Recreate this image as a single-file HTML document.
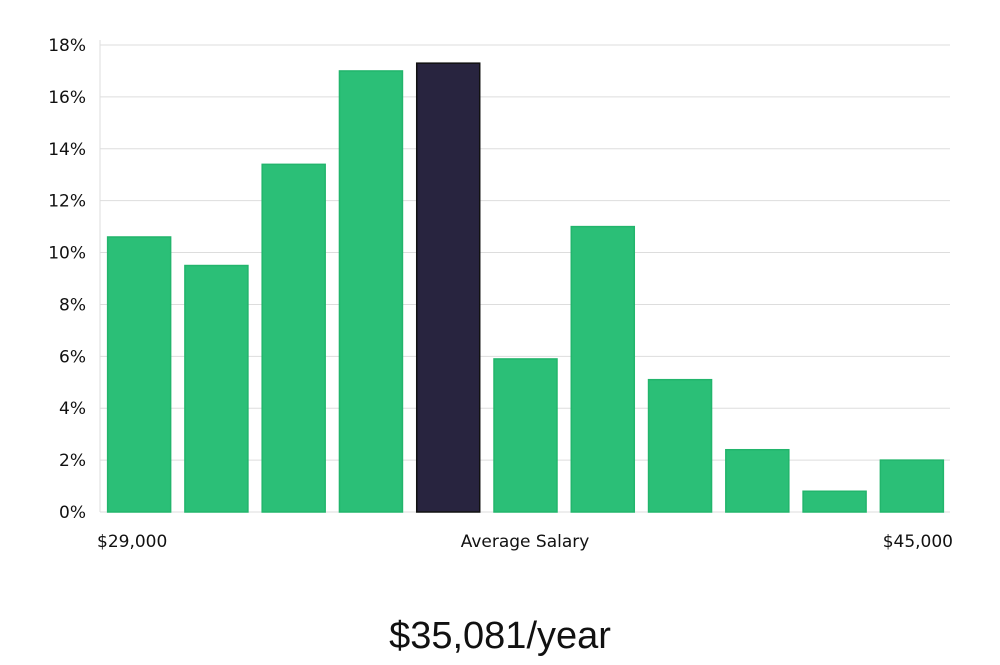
<!DOCTYPE html>
<html><head><meta charset="utf-8"><style>
body{margin:0;background:#fff;}
svg text{font-family:"DejaVu Sans","Liberation Sans",sans-serif;}
</style></head><body>
<svg width="1000" height="660" viewBox="0 0 1000 660">
<g id="grid"></g><g id="bars"></g><g id="labels"></g>
<text x="97" y="547" font-size="17" fill="#111">$29,000</text>
<text x="525" y="547" font-size="17" fill="#111" text-anchor="middle">Average Salary</text>
<text x="953" y="547" font-size="17" fill="#111" text-anchor="end">$45,000</text>
<text x="500" y="648" font-size="38" fill="#111" text-anchor="middle" style="font-family:'Liberation Sans',sans-serif;font-weight:300">$35,081/year</text>
</svg>
<script>
const values=[10.6,9.5,13.4,17.0,17.3,5.9,11.0,5.1,2.4,0.8,2.0];
const highlight=[false,false,false,false,true,false,false,false,false,false,false];
const ticks=[0,2,4,6,8,10,12,14,16,18];
const NS="http://www.w3.org/2000/svg";
const x0=100,x1=950,y0=512,yTop=45,ymax=18;
const y=v=>y0-(v/ymax)*(y0-yTop);
const step=(x1-x0)/values.length, bw=63;
const xb=i=>x0+i*step+(step-bw)/2+0.5;
const grid=document.getElementById('grid');
function mk(t,a,p){const e=document.createElementNS(NS,t);for(const k in a)e.setAttribute(k,a[k]);p.appendChild(e);return e;}
const ax=mk('line',{x1:x0,x2:x0,y1:40,y2:y0,stroke:'#ddd'},grid);


ticks.forEach(t=>{
 const l=mk('line',{x1:x0,x2:x1,y1:y(t),y2:y(t),stroke:'#ddd'},grid);
 
 
 const tx=mk('text',{x:86,y:y(t)+6,'font-size':17,fill:'#111','text-anchor':'end'},document.getElementById('labels'));
 tx.textContent=t+'%';
 
 
});
const bars=document.getElementById('bars');
values.forEach((v,i)=>{
 const r=mk('rect',{x:xb(i),y:y(v),width:bw,height:y0-y(v),fill:highlight[i]?'#28243f':'#2bbf77',stroke:highlight[i]?'#111':'#22b56c','stroke-width':1.5},bars);
 
 
});
</script>
</body></html>
